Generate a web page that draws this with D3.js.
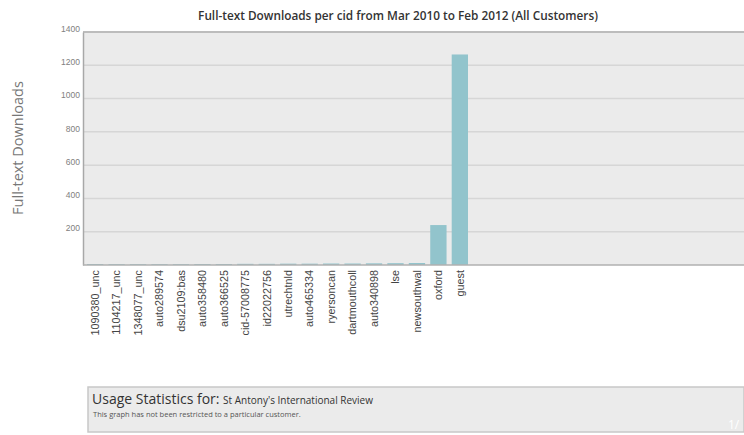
<!DOCTYPE html>
<html>
<head>
<meta charset="utf-8">
<script src="https://cdn.jsdelivr.net/npm/d3@7"></script>
<style>
  body { margin: 0; background: #fff; }
  svg { display: block; font-family: "Open Sans", "Noto Sans", sans-serif; }
</style>
</head>
<body>
<div id="chart"></div>
<script>
// Data
const customers = ["1090380_unc", "1104217_unc", "1348077_unc", "auto289574", "dsu2109:bas",
  "auto358480", "auto366525", "cid-57008775", "id22022756", "utrechtnld", "auto465334",
  "ryersoncan", "dartmouthcoll", "auto340898", "lse", "newsouthwal", "oxford", "guest"];
const downloads = [6, 5, 5, 5, 5, 6, 6, 7, 7, 8, 8, 9, 9, 10, 11, 12, 240, 1265];
const yTicks = [200, 400, 600, 800, 1000, 1200, 1400];

const title = "Full-text Downloads per cid from Mar 2010 to Feb 2012 (All Customers)";
const yTitle = "Full-text Downloads";

// Layout
const W = 744, H = 435;
const plot = {left: 83, top: 32, right: 744, bottom: 265};

const svg = d3.select("#chart").append("svg")
  .attr("width", W)
  .attr("height", H);

const x = d3.scaleBand()
  .domain(customers)
  .range([87, 468])
  .paddingInner(0.24)
  .paddingOuter(0);

const y = d3.scaleLinear()
  .domain([0, 1400])
  .range([plot.bottom, plot.top]);

// Plot background
svg.append("rect")
  .attr("x", plot.left)
  .attr("y", plot.top)
  .attr("width", plot.right - plot.left)
  .attr("height", plot.bottom - plot.top)
  .attr("fill", "#ebebeb");

// Gridlines
svg.append("g")
  .selectAll("line")
  .data(yTicks.slice(0, -1))
  .join("line")
    .attr("x1", plot.left)
    .attr("x2", plot.right)
    .attr("y1", d => y(d))
    .attr("y2", d => y(d))
    .attr("stroke", "#d6d6d6")
    .attr("stroke-width", 1.5);

// Top border
svg.append("line")
  .attr("x1", plot.left).attr("x2", plot.right)
  .attr("y1", plot.top).attr("y2", plot.top)
  .attr("stroke", "#bcbcbc")
  .attr("stroke-width", 2);

// Bars
svg.append("g")
  .selectAll("rect")
  .data(downloads)
  .join("rect")
    .attr("x", (d, i) => x(customers[i]))
    .attr("width", x.bandwidth())
    .attr("y", d => y(d))
    .attr("height", d => y(0) - y(d))
    .attr("fill", "#92c4cc");

// Y axis
const yAxis = svg.append("g")
  .attr("transform", `translate(${plot.left},0)`)
  .call(d3.axisLeft(y).tickValues(yTicks).tickFormat(d3.format("d")).tickSize(0).tickPadding(3));
yAxis.select(".domain").attr("stroke", "#a8a8a8").attr("stroke-width", 1.5);
yAxis.selectAll("text")
  .attr("fill", "#808080")
  .style("font-size", "8.5px")
  .attr("dy", "-0.1em");

// X axis
const xAxis = svg.append("g")
  .attr("transform", `translate(0,${plot.bottom})`)
  .call(d3.axisBottom(x).tickSize(0).tickPadding(0));
xAxis.select(".domain")
  .attr("d", `M${plot.left},0H${plot.right}`)
  .attr("stroke", "#b0b0b0")
  .attr("stroke-width", 1.5);
xAxis.selectAll("text")
  .attr("fill", "#444")
  .style("font-size", "10.8px")
  .attr("text-anchor", "end")
  .attr("transform", "rotate(-90)")
  .attr("x", -5)
  .attr("y", 0)
  .attr("dy", "0.35em");

// Title
svg.append("text")
  .attr("x", 398)
  .attr("y", 20)
  .attr("text-anchor", "middle")
  .attr("fill", "#333")
  .style("font-size", "11.8px")
  .style("font-weight", 600)
  .text(title);

// Y axis title
svg.append("text")
  .attr("transform", "translate(23,148) rotate(-90)")
  .attr("text-anchor", "middle")
  .attr("fill", "#777")
  .style("font-size", "14.5px")
  .text(yTitle);

// Footer box
const foot = svg.append("g");
foot.append("rect")
  .attr("x", 88).attr("y", 387)
  .attr("width", W - 88).attr("height", 45)
  .attr("fill", "#ebebeb")
  .attr("stroke", "#c8c8c8")
  .attr("stroke-width", 1.5);
const line1 = foot.append("text")
  .attr("x", 92).attr("y", 404)
  .attr("fill", "#333");
line1.append("tspan").style("font-size", "14px").text("Usage Statistics for: ");
line1.append("tspan").style("font-size", "10px").text("St Antony's International Review");
foot.append("text")
  .attr("x", 93).attr("y", 417)
  .attr("fill", "#555")
  .style("font-size", "7.5px")
  .text("This graph has not been restricted to a particular customer.");
foot.append("text")
  .attr("x", 728).attr("y", 429)
  .attr("fill", "#fff")
  .style("font-size", "12px")
  .text("1/");
</script>
</body>
</html>
